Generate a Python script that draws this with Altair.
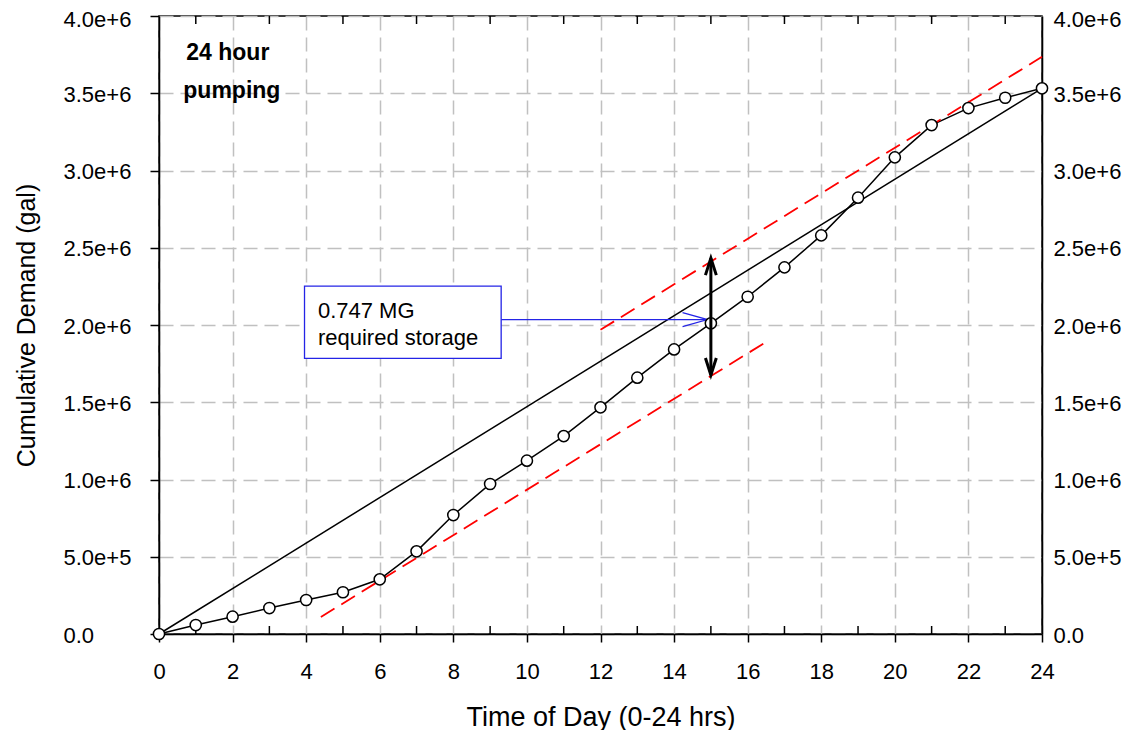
import altair as alt
import pandas as pd

# ---- data ----
hours = list(range(25))
demand = [0, 58000, 112000, 168000, 220000, 270000, 354000, 535000, 770000,
          971000, 1122000, 1281000, 1467000, 1659000, 1842000, 2011000,
          2183000, 2373000, 2580000, 2824000, 3085000, 3294000, 3404000,
          3471000, 3532000]

pump_x = [0, 24]
pump_y = [0, 3532000]

upper_x = [12, 24]
upper_y = [1969000, 3736000]
lower_x = [4.4, 16.5]
lower_y = [110000, 1890000]

arrow_x = [15, 15]
arrow_y = [1676000, 2433000]

box_x = [3.955, 9.30]
box_y = [1784000, 2252000]
pointer_x = [9.30, 14.91]
pointer_y = [2035000, 2035000]
label_lines = ["0.747 MG", "required storage"]
label_x = [4.32, 4.32]
label_y = [2045000, 1870000]

note_lines = ["24 hour", "pumping"]
note_x = [1.87, 1.98]
note_y = [3715000, 3469000]

odd_hours = list(range(1, 25, 2))
y_ticks = [i * 500000 for i in range(9)]

W, H = 883, 618
FONT = "Liberation Sans"
GRID = "#c0c0c0"
TICK_FS = 22

df = pd.DataFrame({"x": hours, "y": demand})
xs = alt.Scale(domain=[0, 24], nice=False, zero=False)
ys = alt.Scale(domain=[0, 4000000], nice=False)

y_label_expr = "datum.value == 0 ? '0.0' : format(datum.value, '.1e')"
top_test = "datum.value >= 4000000"
y_label_baseline = {"condition": {"test": top_test, "value": "top"}, "value": "middle"}
y_label_offset = {"condition": {"test": top_test, "value": -7}, "value": 1}

x_axis = alt.Axis(values=hours, title="Time of Day (0-24 hrs)",
                  labelExpr="datum.value % 2 == 0 ? datum.label : ''",
                  labelFontSize=TICK_FS, labelFont=FONT, labelColor="black",
                  labelPadding=36, labelBaseline="alphabetic", labelFlush=False,
                  labelOverlap=False,
                  tickSize=8, tickWidth=1.5,
                  tickColor={"condition": {"test": "datum.value % 2 == 1", "value": "transparent"}, "value": "black"},
                  domainColor="black", domainWidth=1.5,
                  grid=True, gridColor=GRID, gridDash=[14, 7], gridWidth=1.5,
                  titleFont=FONT, titleFontSize=27, titleFontWeight="normal", titleColor="black",
                  titleX=W / 2, titleY=91, titleBaseline="alphabetic", titleAlign="center")

y_axis = alt.Axis(values=y_ticks, title="Cumulative Demand (gal)",
                  labelExpr=y_label_expr, labelAlign="left", labelBaseline=y_label_baseline,
                  labelFontSize=TICK_FS, labelFont=FONT, labelColor="black",
                  labelPadding=87, labelOffset=y_label_offset, labelFlush=False, labelOverlap=False,
                  tickSize=9, tickWidth=1.5, tickColor="black",
                  domainColor="black", domainWidth=1.5,
                  grid=True, gridColor=GRID, gridDash=[14, 7], gridWidth=1.5,
                  titleFont=FONT, titleFontSize=25, titleFontWeight="normal", titleColor="black",
                  titleX=-133, titleY=H / 2, titleBaseline="middle", titleAlign="center",
                  titleAngle=270)

base = alt.Chart(df)

demand_line = base.mark_line(color="black", strokeWidth=1.5).encode(
    x=alt.X("x:Q", scale=xs, axis=x_axis),
    y=alt.Y("y:Q", scale=ys, axis=y_axis),
)

pump = alt.Chart(pd.DataFrame({"x": pump_x, "y": pump_y})).mark_line(
    color="black", strokeWidth=1.5).encode(x=alt.X("x:Q", scale=xs), y=alt.Y("y:Q", scale=ys))

upper = alt.Chart(pd.DataFrame({"x": upper_x, "y": upper_y})).mark_line(
    color="#ff0000", strokeWidth=1.8, strokeDash=[16, 8]).encode(
    x=alt.X("x:Q", scale=xs), y=alt.Y("y:Q", scale=ys))
lower = alt.Chart(pd.DataFrame({"x": lower_x, "y": lower_y})).mark_line(
    color="#ff0000", strokeWidth=1.8, strokeDash=[16, 8]).encode(
    x=alt.X("x:Q", scale=xs), y=alt.Y("y:Q", scale=ys))

odd_df = pd.DataFrame({"x": odd_hours})
bottom_minor = alt.Chart(odd_df).mark_rule(color="black", strokeWidth=1.5).encode(
    x=alt.X("x:Q", scale=xs), y=alt.value(H - 8), y2=alt.value(H))
top_minor = alt.Chart(odd_df).mark_rule(color="black", strokeWidth=1.5).encode(
    x=alt.X("x:Q", scale=xs), y=alt.value(0), y2=alt.value(8))

box = alt.Chart(pd.DataFrame({"x": [box_x[0]], "x2": [box_x[1]],
                              "y": [box_y[0]], "y2": [box_y[1]]})).mark_rect(
    fill="white", stroke="#2424e6", strokeWidth=1.3).encode(
    x=alt.X("x:Q", scale=xs), x2="x2:Q", y=alt.Y("y:Q", scale=ys), y2="y2:Q")

pointer = alt.Chart(pd.DataFrame({"x": pointer_x, "y": pointer_y})).mark_line(
    color="#2424e6", strokeWidth=1.2).encode(x=alt.X("x:Q", scale=xs), y=alt.Y("y:Q", scale=ys))
pointer_head = alt.Chart(pd.DataFrame({"x": [pointer_x[1]], "y": [pointer_y[1]]})).mark_point(
    shape="M-1,-0.28 L0,0 L-1,0.28", size=2500, filled=False, color="#2424e6",
    strokeWidth=1.2, opacity=1).encode(x=alt.X("x:Q", scale=xs), y=alt.Y("y:Q", scale=ys))

label = alt.Chart(pd.DataFrame({"x": label_x, "y": label_y, "t": label_lines})).mark_text(
    align="left", baseline="alphabetic", font=FONT, fontSize=22, color="black").encode(
    x=alt.X("x:Q", scale=xs), y=alt.Y("y:Q", scale=ys), text="t:N")

note = alt.Chart(pd.DataFrame({"x": note_x, "y": note_y, "t": note_lines})).mark_text(
    align="center", baseline="alphabetic", font=FONT, fontSize=23, fontWeight="bold",
    color="black").encode(x=alt.X("x:Q", scale=xs), y=alt.Y("y:Q", scale=ys), text="t:N")

points = base.mark_point(shape="circle", size=125, filled=True, fill="white",
                         stroke="black", strokeWidth=1.5, opacity=1).encode(
    x=alt.X("x:Q", scale=xs), y=alt.Y("y:Q", scale=ys))

arrow_df = pd.DataFrame({"x": arrow_x, "y": arrow_y})
shaft = alt.Chart(arrow_df).mark_line(color="black", strokeWidth=3).encode(
    x=alt.X("x:Q", scale=xs), y=alt.Y("y:Q", scale=ys))
head_up = alt.Chart(pd.DataFrame({"x": [arrow_x[1]], "y": [arrow_y[1]]})).mark_point(
    shape="M-0.32,1 L0,0 L0.32,1", size=1156, filled=False, color="black",
    strokeWidth=3, opacity=1).encode(x=alt.X("x:Q", scale=xs), y=alt.Y("y:Q", scale=ys))
head_down = alt.Chart(pd.DataFrame({"x": [arrow_x[0]], "y": [arrow_y[0]]})).mark_point(
    shape="M-0.32,-1 L0,0 L0.32,-1", size=1156, filled=False, color="black",
    strokeWidth=3, opacity=1).encode(x=alt.X("x:Q", scale=xs), y=alt.Y("y:Q", scale=ys))

inner = alt.layer(demand_line, pump, upper, lower, bottom_minor, top_minor,
                  pointer, box, label, note, pointer_head, points, shaft, head_up, head_down)

right_axis_layer = base.mark_point(opacity=0).encode(
    x=alt.X("x:Q", scale=xs),
    y=alt.Y("y:Q", scale=ys, axis=alt.Axis(
        orient="right", values=y_ticks, labelExpr=y_label_expr, title=None,
        labelAlign="left", labelBaseline=y_label_baseline, labelFontSize=TICK_FS, labelFont=FONT,
        labelColor="black", labelPadding=11, labelOffset=y_label_offset, labelFlush=False,
        labelOverlap=False, tickSize=0, grid=False,
        domainColor="black", domainWidth=1.5)),
)

chart = alt.layer(inner, right_axis_layer).resolve_scale(y="independent").properties(
    width=W, height=H,
    autosize=alt.AutoSizeParams(type="none"),
    padding={"left": 151, "top": 8, "right": 84, "bottom": 96},
    background="white",
).configure_view(stroke="black", strokeWidth=1.5)

chart.save("out.html", embed_options={"renderer": "svg", "actions": False})
